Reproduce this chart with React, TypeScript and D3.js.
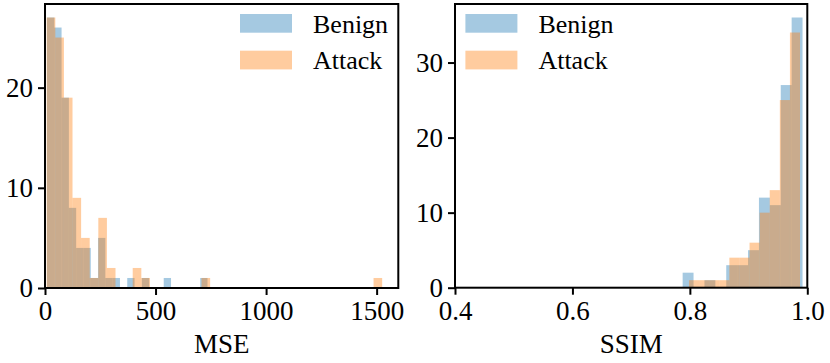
import React, { useEffect, useRef } from 'react';
import * as d3 from 'd3';

// histogram counts (equal-width bins over each range)
const mseBenignCounts = [27, 26, 19, 8, 4, 4, 1, 5, 1, 1, 0, 1, 0, 1, 0, 0, 1, 0, 0, 0, 0, 1];
const mseBenignRange = [9, 735];
const mseAttackCounts = [
  27, 25, 19, 9, 5, 1, 7, 2, 0, 0, 2, 1, 0, 0, 0, 0, 0, 0, 1,
  0, 0, 0, 0, 0, 0, 0, 0, 0, 0, 0, 0, 0, 0, 0, 0, 0, 0, 0, 1,
];
const mseAttackRange = [7.7, 1525];

const ssimBenignCounts = [2, 0, 1, 0, 3, 3, 5, 12, 11, 27, 36];
const ssimBenignRange = [0.7877, 0.9919];
const ssimAttackCounts = [1, 1, 1, 1, 4, 4, 6, 10, 13, 25, 34];
const ssimAttackRange = [0.7985, 0.9876];

const mseXTicks = [0, 500, 1000, 1500];
const mseYTicks = [0, 10, 20];
const ssimXTicks = [0.4, 0.6, 0.8, 1.0];
const ssimYTicks = [0, 10, 20, 30];

const seriesNames = ['Benign', 'Attack'];
const colors = ['#1f77b4', '#ff7f0e'];

const width = 830;
const height = 363;
const font = 'Liberation Serif';

const App = () => {
  const svgRef = useRef(null);

  useEffect(() => {
    const svg = d3.select(svgRef.current);
    svg.selectAll('*').remove();

    const panels = [
      {
        left: 45, right: 398.3, top: 4, bottom: 288,
        xDomain: [0, 1598], yDomain: [0, 28.35],
        xTicks: mseXTicks, yTicks: mseYTicks, fmt: d3.format('d'),
        label: 'MSE',
        series: [
          { counts: mseBenignCounts, range: mseBenignRange },
          { counts: mseAttackCounts, range: mseAttackRange },
        ],
        legendX: 240,
      },
      {
        left: 455, right: 807.3, top: 4, bottom: 287.7,
        xDomain: [0.4, 1.0], yDomain: [0, 37.8],
        xTicks: ssimXTicks, yTicks: ssimYTicks, fmt: d3.format('.1f'),
        label: 'SSIM',
        series: [
          { counts: ssimBenignCounts, range: ssimBenignRange },
          { counts: ssimAttackCounts, range: ssimAttackRange },
        ],
        legendX: 465.4,
      },
    ];

    panels.forEach((p) => {
      const x = d3.scaleLinear().domain(p.xDomain).range([p.left, p.right]);
      const y = d3.scaleLinear().domain(p.yDomain).range([p.bottom, p.top]);

      // bars, benign first then attack on top
      p.series.forEach((s, si) => {
        const [lo, hi] = s.range;
        const w = (hi - lo) / s.counts.length;
        const bins = s.counts
          .map((c, i) => ({ x0: lo + i * w, x1: lo + (i + 1) * w, c }))
          .filter((d) => d.c > 0);
        svg.append('g')
          .selectAll('rect')
          .data(bins)
          .enter()
          .append('rect')
          .attr('x', (d) => x(d.x0))
          .attr('width', (d) => x(d.x1) - x(d.x0))
          .attr('y', (d) => y(d.c))
          .attr('height', (d) => y(0) - y(d.c))
          .attr('fill', colors[si])
          .attr('fill-opacity', 0.4);
      });

      // axes
      const xAxis = svg.append('g')
        .attr('transform', `translate(0,${p.bottom})`)
        .call(d3.axisBottom(x).tickValues(p.xTicks).tickFormat(p.fmt).tickSize(7).tickSizeOuter(0).tickPadding(6));
      const yAxis = svg.append('g')
        .attr('transform', `translate(${p.left},0)`)
        .call(d3.axisLeft(y).tickValues(p.yTicks).tickFormat(d3.format('d')).tickSize(7).tickSizeOuter(0).tickPadding(5));
      [xAxis, yAxis].forEach((a) => {
        a.attr('font-family', null).attr('font-size', null);
        a.select('.domain').remove();
        a.selectAll('line').attr('stroke', '#000').attr('stroke-width', 2);
        a.selectAll('text')
          .attr('fill', '#000')
          .attr('font-family', font)
          .attr('font-size', 27);
      });

      // frame
      svg.append('rect')
        .attr('x', p.left)
        .attr('y', p.top)
        .attr('width', p.right - p.left)
        .attr('height', p.bottom - p.top)
        .attr('fill', 'none')
        .attr('stroke', '#000')
        .attr('stroke-width', 2);

      // x label
      svg.append('text')
        .attr('x', (p.left + p.right) / 2)
        .attr('y', 352.5)
        .attr('text-anchor', 'middle')
        .attr('font-family', font)
        .attr('font-size', 27)
        .text(p.label);

      // legend
      seriesNames.forEach((name, i) => {
        const ly = 14 + i * 36.7;
        svg.append('rect')
          .attr('x', p.legendX)
          .attr('y', ly)
          .attr('width', 52)
          .attr('height', 18.7)
          .attr('fill', colors[i])
          .attr('fill-opacity', 0.4);
        svg.append('text')
          .attr('x', p.legendX + 73)
          .attr('y', ly + 18.5)
          .attr('font-family', font)
          .attr('font-size', 26)
          .text(name);
      });
    });
  }, []);

  return (
    <svg
      ref={svgRef}
      width={width}
      height={height}
      fontFamily={font}
      style={{ position: 'absolute', left: 0, top: 0, background: '#fff' }}
    />
  );
};

export default App;
